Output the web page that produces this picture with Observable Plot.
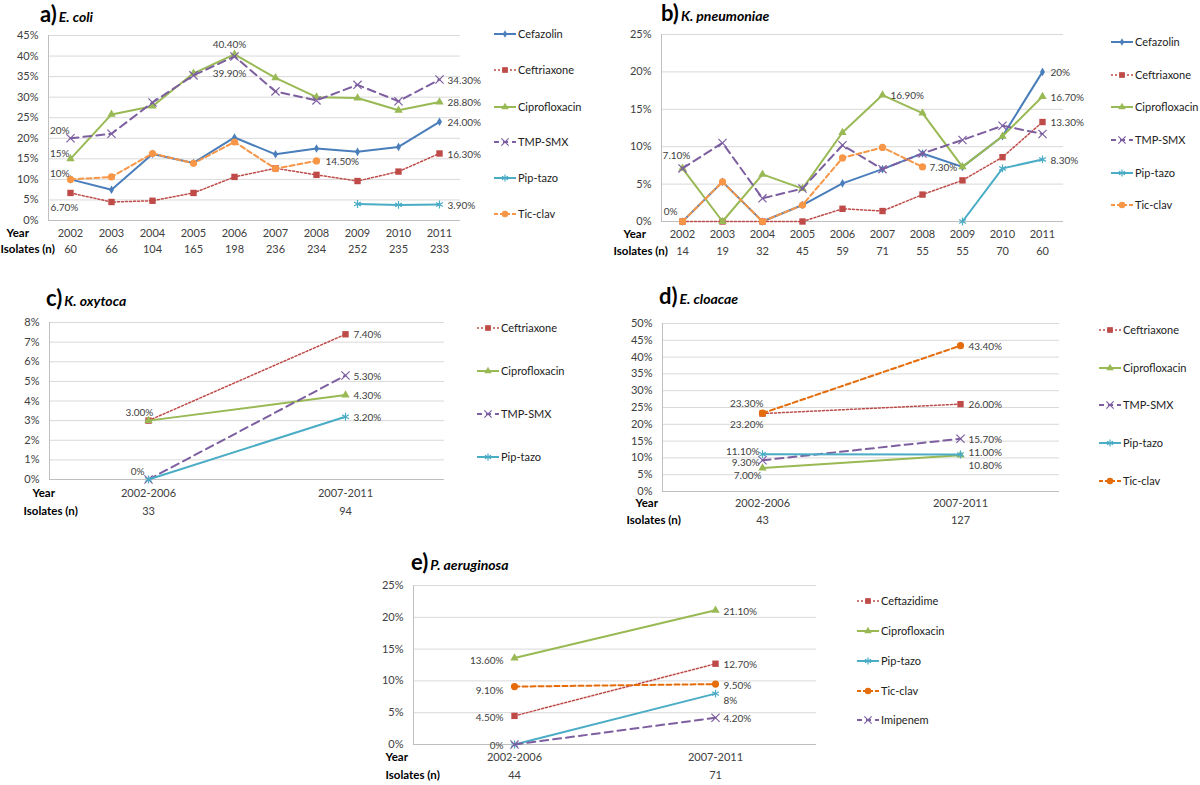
<!DOCTYPE html>
<html><head><meta charset="utf-8">
<script src="https://cdn.jsdelivr.net/npm/d3@7"></script>
<script src="https://cdn.jsdelivr.net/npm/@observablehq/plot@0.6"></script>
<style>
body{margin:0;background:#fff;width:1200px;height:785px;overflow:hidden;position:relative;font-family:Lato,sans-serif;}
.panel{position:absolute;}
.title{position:absolute;white-space:nowrap;color:#000;}
.title .l{font-weight:bold;font-size:22px;}
.title .s{font-weight:bold;font-style:italic;font-size:14px;margin-left:2px;}
#legend{position:absolute;left:0;top:0;}
</style></head><body>
<script>
// ---------- DATA ----------
const years = ["2002","2003","2004","2005","2006","2007","2008","2009","2010","2011"];
const periods = ["2002-2006","2007-2011"];

// a) E. coli
const ecoliIsolates = [60,66,104,165,198,236,234,252,235,233];
const ecoliCefazolin = [10,7.5,16.2,14,20.2,16.1,17.5,16.7,17.9,24.0];
const ecoliCeftriaxone = [6.7,4.5,4.8,6.7,10.6,12.7,11.1,9.6,11.9,16.3];
const ecoliCipro = [15,25.8,27.8,35.8,40.4,34.7,30.0,29.8,26.8,28.8];
const ecoliTmpSmx = [20,21.1,28.7,35.3,39.9,31.4,29.2,33.0,29.0,34.3];
const ecoliPipTazo = [null,null,null,null,null,null,null,4.0,3.8,3.9];
const ecoliTicClav = [10,10.6,16.3,13.9,19.1,12.6,14.5,null,null,null];
const ecoliLabels = [
  ["TMP-SMX","2002","20%"],["Ciprofloxacin","2002","15%"],["Tic-clav","2002","10%"],
  ["Ceftriaxone","2002","6.70%"],["Ciprofloxacin","2006","40.40%"],["TMP-SMX","2006","39.90%"],
  ["Tic-clav","2008","14.50%"],["TMP-SMX","2011","34.30%"],["Ciprofloxacin","2011","28.80%"],
  ["Cefazolin","2011","24.00%"],["Ceftriaxone","2011","16.30%"],["Pip-tazo","2011","3.90%"]
];

// b) K. pneumoniae
const kpnIsolates = [14,19,32,45,59,71,55,55,70,60];
const kpnCefazolin = [0,5.3,0,2.2,5.1,7.0,9.1,7.3,11.4,20];
const kpnCeftriaxone = [0,0,0,0,1.7,1.4,3.6,5.5,8.6,13.3];
const kpnCipro = [7.1,0,6.3,4.4,11.9,16.9,14.5,7.3,11.4,16.7];
const kpnTmpSmx = [7.1,10.5,3.1,4.4,10.2,7.0,9.1,10.9,12.8,11.7];
const kpnPipTazo = [null,null,null,null,null,null,null,0,7.1,8.3];
const kpnTicClav = [0,5.3,0,2.2,8.5,9.9,7.3,null,null,null];
const kpnLabels = [
  ["Ciprofloxacin","2002","7.10%"],["Ceftriaxone","2002","0%"],["Ciprofloxacin","2007","16.90%"],
  ["Tic-clav","2008","7.30%"],["Cefazolin","2011","20%"],["Ciprofloxacin","2011","16.70%"],
  ["Ceftriaxone","2011","13.30%"],["Pip-tazo","2011","8.30%"]
];

// c) K. oxytoca
const koxIsolates = [33,94];
const koxCeftriaxone = [3.0,7.4];
const koxCipro = [3.0,4.3];
const koxTmpSmx = [0,5.3];
const koxPipTazo = [0,3.2];
const koxLabels = [
  ["Ciprofloxacin","2002-2006","3.00%"],["TMP-SMX","2002-2006","0%"],
  ["Ceftriaxone","2007-2011","7.40%"],["TMP-SMX","2007-2011","5.30%"],
  ["Ciprofloxacin","2007-2011","4.30%"],["Pip-tazo","2007-2011","3.20%"]
];

// d) E. cloacae
const eclIsolates = [43,127];
const eclCeftriaxone = [23.2,26.0];
const eclCipro = [7.0,10.8];
const eclTmpSmx = [9.3,15.7];
const eclPipTazo = [11.1,11.0];
const eclTicClav = [23.3,43.4];
const eclLabels = [
  ["Tic-clav","2002-2006","23.30%"],["Ceftriaxone","2002-2006","23.20%"],["Pip-tazo","2002-2006","11.10%"],
  ["TMP-SMX","2002-2006","9.30%"],["Ciprofloxacin","2002-2006","7.00%"],
  ["Tic-clav","2007-2011","43.40%"],["Ceftriaxone","2007-2011","26.00%"],["TMP-SMX","2007-2011","15.70%"],
  ["Pip-tazo","2007-2011","11.00%"],["Ciprofloxacin","2007-2011","10.80%"]
];

// e) P. aeruginosa
const paeIsolates = [44,71];
const paeCeftazidime = [4.5,12.7];
const paeCipro = [13.6,21.1];
const paePipTazo = [0,8];
const paeTicClav = [9.1,9.5];
const paeImipenem = [0,4.2];
const paeLabels = [
  ["Ciprofloxacin","2002-2006","13.60%"],["Tic-clav","2002-2006","9.10%"],["Ceftazidime","2002-2006","4.50%"],
  ["Pip-tazo","2002-2006","0%"],["Ciprofloxacin","2007-2011","21.10%"],["Ceftazidime","2007-2011","12.70%"],
  ["Tic-clav","2007-2011","9.50%"],["Pip-tazo","2007-2011","8%"],["Imipenem","2007-2011","4.20%"]
];

// ---------- STYLES ----------
const COL = {blue:"#4A7EBB", red:"#BE4B48", green:"#98B954", purple:"#7D5FA0", cyan:"#4BACC6", orange:"#F79646", orange2:"#E46C0A"};
const STY = {
  "Cefazolin":{c:COL.blue, sym:"diamond", dash:null, sw:2, fill:true, r:2.6},
  "Ceftriaxone":{c:COL.red, sym:"square", dash:"2,2", sw:1.5, fill:true, r:3.6},
  "Ceftazidime":{c:COL.red, sym:"square", dash:"2,2", sw:1.5, fill:true, r:3.6},
  "Ciprofloxacin":{c:COL.green, sym:"triangle", dash:null, sw:2, fill:true, r:3.1},
  "TMP-SMX":{c:COL.purple, sym:"times", dash:"8,5", sw:2, fill:false, r:3.8},
  "Imipenem":{c:COL.purple, sym:"times", dash:"8,5", sw:2, fill:false, r:3.8},
  "Pip-tazo":{c:COL.cyan, sym:"asterisk", dash:null, sw:2, fill:false, r:3.7},
  "Tic-clav":{c:COL.orange, sym:"circle", dash:"5,3", sw:2, fill:true, r:3.6}
};
const TXT = "#404040";
const FONT = "Lato, sans-serif";

// label placements (style only): [dx, dy, anchor]
const POS = {
  a:[[-1,-7,"end"],[-1,-5,"end"],[-1,-6,"end"],[-6,15,"middle"],[-5,-10,"middle"],[-5,17,"middle"],[9,1,"start"],[8,1,"start"],[8,1,"start"],[8,1,"start"],[8,1,"start"],[8,1,"start"]],
  b:[[-6,-13,"middle"],[-5,-10,"end"],[8,1,"start"],[7,1,"start"],[8,1,"start"],[8,1,"start"],[8,1,"start"],[8,1,"start"]],
  c:[[-9,-8,"middle"],[-4,-8,"end"],[8,1,"start"],[8,1,"start"],[8,1,"start"],[8,1,"start"]],
  d:[[1,-9,"end"],[1,11,"end"],[-3,-2,"end"],[-3,3,"end"],[-1,8,"end"],[8,1,"start"],[8,1,"start"],[8,1,"start"],[8,-2,"start"],[8,11,"start"]],
  e:[[-11,3,"end"],[-11,4,"end"],[-11,2,"end"],[-11,1,"end"],[8,1,"start"],[8,1,"start"],[8,2,"start"],[8,7,"start"],[8,1,"start"]]
};

function drawPanel(cfg) {
  const marks = [
    Plot.gridY({ticks: cfg.ticks, stroke:"#d9d9d9", strokeOpacity:1}),
    Plot.ruleY([0], {stroke:"#bfbfbf"}),
    Plot.frame({anchor:"left", stroke:"#bfbfbf"}),
    Plot.axisY({ticks: cfg.ticks, label: null, tickSize:0, tickPadding:10, tickFormat: d => d + "%", fill:TXT, fontSize:11})
  ];
  const lookup = {};
  cfg.series.forEach(([name, vals]) => {
    const st = Object.assign({}, STY[name], cfg.override && cfg.override[name] || {});
    const pts = [];
    vals.forEach((v, i) => { if (v != null) { pts.push({name, cat: cfg.cats[i], v}); lookup[name + "|" + cfg.cats[i]] = v; } });
    marks.push(Plot.line(pts, {x:"cat", y:"v", stroke: st.c, strokeWidth: st.sw, strokeDasharray: st.dash || undefined}));
    marks.push(Plot.dot(pts, st.fill
      ? {x:"cat", y:"v", symbol: st.sym, r: st.r, fill: st.c, stroke: "none"}
      : {x:"cat", y:"v", symbol: st.sym, r: st.r, fill: "none", stroke: st.c, strokeWidth: 1.2}));
  });
  cfg.labels.forEach(([name, cat, text], i) => {
    const [dx, dy, anchor] = cfg.pos[i];
    marks.push(Plot.text([{cat, v: lookup[name + "|" + cat], text}], {x:"cat", y:"v", text:"text", dx, dy, textAnchor: anchor, fill: TXT, fontSize: 10}));
  });
  marks.push(Plot.text(cfg.cats, {x: d => d, text: d => d, frameAnchor:"bottom", dy: cfg.rowDy[0], fill: TXT, fontSize: 11}));
  marks.push(Plot.text(cfg.cats.map((c, i) => ({c, n: cfg.isolates[i]})), {x:"c", text: d => String(d.n), frameAnchor:"bottom", dy: cfg.rowDy[1], fill: TXT, fontSize: 11}));
  marks.push(Plot.text(["Year"], {frameAnchor:"bottom-left", textAnchor:"start", dx: cfg.labDx[0], dy: cfg.rowDy[0], fontWeight:"bold", fill:"#000", fontSize: 11.5}));
  marks.push(Plot.text(["Isolates (n)"], {frameAnchor:"bottom-left", textAnchor:"start", dx: cfg.labDx[1], dy: cfg.rowDy[1], fontWeight:"bold", fill:"#000", fontSize: 11.5}));

  const chart = Plot.plot({
    width: cfg.w, height: cfg.h,
    marginLeft: cfg.ml, marginRight: cfg.mr, marginTop: cfg.mt, marginBottom: cfg.mb,
    style: {fontFamily: FONT, fontSize: "11px", background: "transparent", overflow: "visible"},
    x: {type: "point", domain: cfg.cats, padding: 0.5, axis: null},
    y: {domain: [0, cfg.ymax], axis: null},
    marks
  });
  const div = document.createElement("div");
  div.className = "panel";
  div.style.left = cfg.left + "px"; div.style.top = cfg.top + "px";
  div.appendChild(chart);
  document.body.appendChild(div);

  const t = document.createElement("div");
  t.className = "title";
  t.style.left = cfg.title[2] + "px"; t.style.top = cfg.title[3] + "px";
  t.innerHTML = `<span class="l">${cfg.title[0]}</span><span class="s">${cfg.title[1]}</span>`;
  document.body.appendChild(t);
}

const d5 = [0,5,10,15,20,25,30,35,40,45,50];
drawPanel({cats: years, isolates: ecoliIsolates, ymax: 45, ticks: d5.slice(0,10),
  series: [["Cefazolin",ecoliCefazolin],["Ceftriaxone",ecoliCeftriaxone],["Ciprofloxacin",ecoliCipro],["TMP-SMX",ecoliTmpSmx],["Pip-tazo",ecoliPipTazo],["Tic-clav",ecoliTicClav]],
  labels: ecoliLabels, pos: POS.a, left: 0, top: 0, w: 470, h: 265, ml: 48, mr: 10, mt: 35, mb: 45,
  rowDy: [16, 32], labDx: [-42, -48], title: ["a)", "E. coli", 40, 0]});
drawPanel({cats: years, isolates: kpnIsolates, ymax: 25, ticks: d5.slice(0,6),
  series: [["Cefazolin",kpnCefazolin],["Ceftriaxone",kpnCeftriaxone],["Ciprofloxacin",kpnCipro],["TMP-SMX",kpnTmpSmx],["Pip-tazo",kpnPipTazo],["Tic-clav",kpnTicClav]],
  labels: kpnLabels, pos: POS.b, left: 600, top: 0, w: 473, h: 266, ml: 61, mr: 10, mt: 34, mb: 45,
  rowDy: [16, 33], labDx: [-38, -48], title: ["b)", "K. pneumoniae", 661, -1]});
drawPanel({cats: periods, isolates: koxIsolates, ymax: 8, ticks: [0,1,2,3,4,5,6,7,8],
  series: [["Ceftriaxone",koxCeftriaxone],["Ciprofloxacin",koxCipro],["TMP-SMX",koxTmpSmx],["Pip-tazo",koxPipTazo]],
  labels: koxLabels, pos: POS.c, left: 0, top: 280, w: 454, h: 244, ml: 49, mr: 10, mt: 42, mb: 45,
  rowDy: [17, 35], labDx: [-17, -26], title: ["c)", "K. oxytoca", 46, 284]});
drawPanel({cats: periods, isolates: eclIsolates, ymax: 50, ticks: d5,
  series: [["Ceftriaxone",eclCeftriaxone],["Ciprofloxacin",eclCipro],["TMP-SMX",eclTmpSmx],["Pip-tazo",eclPipTazo],["Tic-clav",eclTicClav]],
  override: {"Tic-clav": {c: COL.orange2}},
  labels: eclLabels, pos: POS.d, left: 600, top: 280, w: 469, h: 256, ml: 62, mr: 10, mt: 43, mb: 45,
  rowDy: [15, 32], labDx: [-27, -36], title: ["d)", "E. cloacae", 659, 282]});
drawPanel({cats: periods, isolates: paeIsolates, ymax: 25, ticks: d5.slice(0,6),
  series: [["Ceftazidime",paeCeftazidime],["Ciprofloxacin",paeCipro],["Pip-tazo",paePipTazo],["Tic-clav",paeTicClav],["Imipenem",paeImipenem]],
  override: {"Tic-clav": {c: COL.orange2}},
  labels: paeLabels, pos: POS.e, left: 370, top: 545, w: 456, h: 239, ml: 43, mr: 10, mt: 40, mb: 40,
  rowDy: [16, 34], labDx: [-28, -28], title: ["e)", "P. aeruginosa", 411, 548]});

// ---------- LEGENDS ----------
const legends = [
  {x: 494, ys: [34,70,107,142,178,214], names: ["Cefazolin","Ceftriaxone","Ciprofloxacin","TMP-SMX","Pip-tazo","Tic-clav"]},
  {x: 1111, ys: [42,75,107,140,173,205], names: ["Cefazolin","Ceftriaxone","Ciprofloxacin","TMP-SMX","Pip-tazo","Tic-clav"]},
  {x: 477, ys: [328,371,414,457], names: ["Ceftriaxone","Ciprofloxacin","TMP-SMX","Pip-tazo"]},
  {x: 1099, ys: [330,368,405,443,481], names: ["Ceftriaxone","Ciprofloxacin","TMP-SMX","Pip-tazo","Tic-clav"], orange2: true},
  {x: 857, ys: [601,631,661,691,720], names: ["Ceftazidime","Ciprofloxacin","Pip-tazo","Tic-clav","Imipenem"], orange2: true}
];
const symMap = {diamond: d3.symbolDiamond, square: d3.symbolSquare, triangle: d3.symbolTriangle, times: d3.symbolTimes, asterisk: d3.symbolAsterisk, circle: d3.symbolCircle};
const svg = d3.select("body").append("svg").attr("id","legend").attr("width",1200).attr("height",785);
legends.forEach(L => {
  L.names.forEach((name, i) => {
    const st = STY[name];
    const c = (name === "Tic-clav" && L.orange2) ? COL.orange2 : st.c;
    const g = svg.append("g").attr("transform", `translate(${L.x},${L.ys[i]})`);
    g.append("line").attr("x1",0).attr("x2",22).attr("stroke",c).attr("stroke-width",st.sw).attr("stroke-dasharray", st.dash ? (st.dash === "8,5" ? "5,4" : st.dash === "5,3" ? "4,2" : st.dash) : null);
    const area = Math.PI * st.r * st.r * 0.8;
    g.append("path").attr("transform","translate(11,0)").attr("d", d3.symbol(symMap[st.sym], area)())
      .attr("fill", st.fill ? c : "none").attr("stroke", st.fill ? "none" : c).attr("stroke-width", 1.2);
    g.append("text").attr("x", 24).attr("dy","0.35em").attr("font-family",FONT).attr("font-size",11).attr("fill","#222").text(name);
  });
});
</script>
</body></html>
